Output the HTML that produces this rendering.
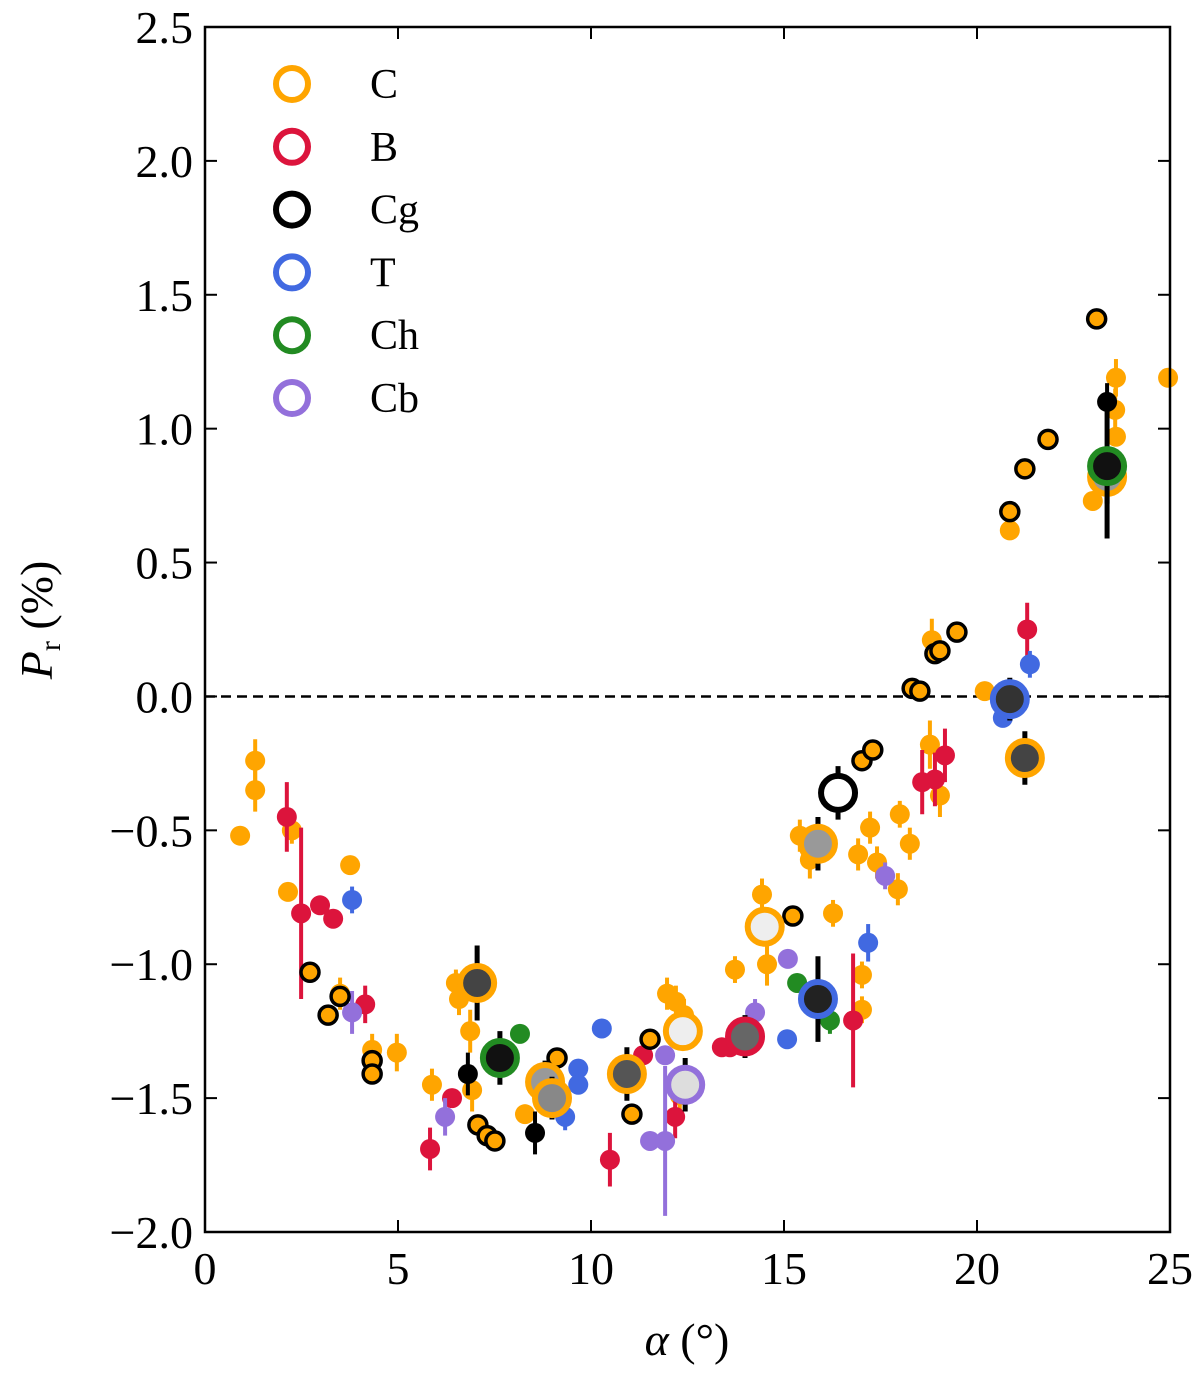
<!DOCTYPE html>
<html><head><meta charset="utf-8"><style>
body{margin:0;background:#fff}
svg text{font-family:"Liberation Serif","DejaVu Serif",serif;fill:#000}
</style></head><body>
<svg id="chart" width="1200" height="1371" xmlns="http://www.w3.org/2000/svg"></svg>
<script>
// data arrays: [alpha (deg), Pr (%), error]
const cPoints=[[0.91,-0.52,0],[1.3,-0.24,0.08],[1.3,-0.35,0.08],[2.15,-0.73,0],[2.25,-0.5,0.05],[3.76,-0.63,0],[3.5,-1.11,0.06],[4.33,-1.32,0.06],[4.97,-1.33,0.07],[5.88,-1.45,0.06],[6.87,-1.25,0.08],[6.92,-1.47,0.08],[6.58,-1.13,0.06],[6.5,-1.07,0.05],[8.29,-1.56,0],[11.97,-1.11,0.06],[12.2,-1.14,0.06],[12.41,-1.19,0.06],[12.3,-1.49,0.06],[13.73,-1.02,0.05],[14.43,-0.74,0.06],[14.56,-1.0,0.08],[15.41,-0.52,0.06],[15.67,-0.61,0.07],[16.27,-0.81,0.05],[16.92,-0.59,0.06],[17.23,-0.49,0.06],[17.41,-0.62,0.06],[17.02,-1.17,0.05],[17.02,-1.04,0.05],[18.0,-0.44,0.05],[17.95,-0.72,0.06],[18.26,-0.55,0.06],[18.78,-0.18,0.09],[18.83,0.21,0.08],[19.04,-0.37,0.08],[20.2,0.02,0],[20.85,0.62,0],[23.0,0.73,0],[23.58,1.07,0.08],[23.6,1.19,0.07],[23.6,0.97,0],[24.95,1.19,0]];
const cgSmall=[[2.72,-1.03,0],[3.19,-1.19,0],[3.5,-1.12,0],[4.33,-1.36,0],[4.33,-1.41,0],[7.07,-1.6,0],[7.31,-1.64,0],[7.51,-1.66,0],[9.12,-1.35,0],[11.06,-1.56,0],[11.53,-1.28,0],[15.23,-0.82,0],[17.02,-0.24,0],[17.3,-0.2,0],[18.32,0.03,0],[18.52,0.02,0],[18.91,0.16,0],[19.04,0.17,0],[19.48,0.24,0],[20.85,0.69,0],[21.24,0.85,0],[21.84,0.96,0],[23.1,1.41,0]];
const cgFilled=[[6.81,-1.41,0.08],[8.55,-1.63,0.08],[23.37,1.1,0.07]];
const bPoints=[[2.12,-0.45,0.13],[2.49,-0.81,0.32],[2.98,-0.78,0],[3.32,-0.83,0],[4.15,-1.15,0.07],[5.83,-1.69,0.08],[6.4,-1.5,0],[10.49,-1.73,0.1],[11.35,-1.34,0],[12.18,-1.57,0.08],[13.39,-1.31,0],[13.6,-1.31,0],[16.79,-1.21,0.25],[18.58,-0.32,0.12],[18.91,-0.31,0.1],[19.17,-0.22,0.1],[21.3,0.25,0.1]];
const tPoints=[[3.81,-0.76,0.05],[10.28,-1.24,0],[9.33,-1.57,0.05],[9.67,-1.39,0],[9.67,-1.45,0],[15.08,-1.28,0],[17.18,-0.92,0.07],[20.67,-0.08,0],[21.37,0.12,0.05]];
const chPoints=[[8.16,-1.26,0],[15.34,-1.07,0],[16.19,-1.21,0.05]];
const cbPoints=[[3.81,-1.18,0.08],[6.22,-1.57,0.07],[11.53,-1.66,0],[11.92,-1.66,0.28],[11.92,-1.34,0],[14.25,-1.18,0.05],[15.1,-0.98,0],[17.62,-0.67,0.05]];
// large markers: [alpha, Pr, err, type, fill]
const bigAlpha=[7.05,10.93,21.24,12.38,14.5,15.88,8.81,8.99,13.99,16.4,15.88,20.85,23.37,7.64,23.37,12.44];
const bigPr=[-1.07,-1.41,-0.23,-1.25,-0.86,-0.55,-1.44,-1.5,-1.27,-0.36,-1.13,-0.01,0.82,-1.35,0.86,-1.45];
const bigErr=[0.14,0.1,0.1,0.06,0.06,0.1,0.08,0.08,0.08,0.1,0.16,0.08,0.1,0.1,0.27,0.1];
const bigType=["C","C","C","C","C","C","C","C","B","Cg","T","T","C","Ch","Ch","Cb"];
const bigFill=["#444","#555","#444","#eee","#eee","#999","#999","#888","#666","#fff","#222","#333","#999","#111","#111","#ddd"];
const xTicks=[0,5,10,15,20,25];
const yTicks=[-2.0,-1.5,-1.0,-0.5,0.0,0.5,1.0,1.5,2.0,2.5];
const legendLabels=["C","B","Cg","T","Ch","Cb"];
const colors={C:"#FFA500",B:"#DC143C",Cg:"#000000",T:"#4169E1",Ch:"#228B22",Cb:"#9370DB"};

const L=205,R=1170,T=27,B=1232;
const sx=a=>L+(a-0)/25*(R-L);
const sy=p=>B-(p+2)/4.5*(B-T);
const NS="http://www.w3.org/2000/svg";
const svg=document.getElementById('chart');
function mk(tag,attrs,parent){const e=document.createElementNS(NS,tag);for(const k in attrs)e.setAttribute(k,attrs[k]);(parent||svg).appendChild(e);return e;}

const plot=mk('g',{});


const zl=mk('line',{x1:L,x2:R,y1:sy(0),y2:sy(0),stroke:'#000','stroke-width':2.5,'stroke-dasharray':'10,6'},plot);



function series(arr,color,name,edge){
  const g=mk('g',{},plot);
  
  
  arr.forEach(d=>{
    if(d[2]>0){const l=mk('line',{x1:sx(d[0]),x2:sx(d[0]),y1:sy(d[1]-d[2]),y2:sy(d[1]+d[2]),stroke:edge?'#000':color,'stroke-width':4},g);
      
      }
    const c=mk('circle',{cx:sx(d[0]),cy:sy(d[1]),r:edge?9:10,fill:color,stroke:edge?'#000':'none','stroke-width':edge?3.5:0},g);
    
    
  });
}
series(cPoints,colors.C,'series-c',false);
series(bPoints,colors.B,'series-b',false);
series(tPoints,colors.T,'series-t',false);
series(chPoints,colors.Ch,'series-ch',false);
series(cbPoints,colors.Cb,'series-cb',false);
series(cgSmall,colors.C,'series-cg-small',true);
series(cgFilled,'#000','series-cg-filled',false);

const bg=mk('g',{},plot);


bigAlpha.forEach((a,i)=>{
  const l=mk('line',{x1:sx(a),x2:sx(a),y1:sy(bigPr[i]-bigErr[i]),y2:sy(bigPr[i]+bigErr[i]),stroke:'#000','stroke-width':5},bg);
  
  
  const c=mk('circle',{cx:sx(a),cy:sy(bigPr[i]),r:17,fill:bigFill[i],stroke:colors[bigType[i]],'stroke-width':6},bg);
  
  
});

// frame
const fr=mk('rect',{x:L,y:T,width:R-L,height:B-T,fill:'none',stroke:'#000','stroke-width':2.5});


xTicks.forEach(t=>{
  const x=sx(t);
  mk('line',{x1:x,x2:x,y1:B,y2:B-12,stroke:'#000','stroke-width':2});
  mk('line',{x1:x,x2:x,y1:T,y2:T+12,stroke:'#000','stroke-width':2});
  const tx=mk('text',{x:x,y:B+52,'font-size':46,'text-anchor':'middle'});
  tx.textContent=t;
  
  
});
yTicks.forEach(t=>{
  const y=sy(t);
  mk('line',{x1:L,x2:L+12,y1:y,y2:y,stroke:'#000','stroke-width':2});
  mk('line',{x1:R,x2:R-12,y1:y,y2:y,stroke:'#000','stroke-width':2});
  const tx=mk('text',{x:L-12,y:y+16,'font-size':46,'text-anchor':'end'});
  tx.textContent=(t<0?'\u2212':'')+Math.abs(t).toFixed(1);
  
  
});
const xl=mk('text',{x:687,y:1355,'font-size':46,'text-anchor':'middle'});
xl.innerHTML='<tspan font-style="italic">α</tspan> (°)';


const yl=mk('text',{x:0,y:0,'font-size':46,'text-anchor':'middle',transform:'translate(52,620) rotate(-90)'});
yl.innerHTML='<tspan font-style="italic">P</tspan><tspan font-size="30" dy="8">r</tspan><tspan dy="-8"> (%)</tspan>';



const lg=mk('g',{});


legendLabels.forEach((lab,i)=>{
  const y=84+i*62.8;
  const c=mk('circle',{cx:292,cy:y,r:16,fill:'none',stroke:colors[lab],'stroke-width':6},lg);
  
  
  const t=mk('text',{x:370,y:y+14,'font-size':42},lg);
  t.textContent=lab;
  
  
});
</script>
</body></html>
